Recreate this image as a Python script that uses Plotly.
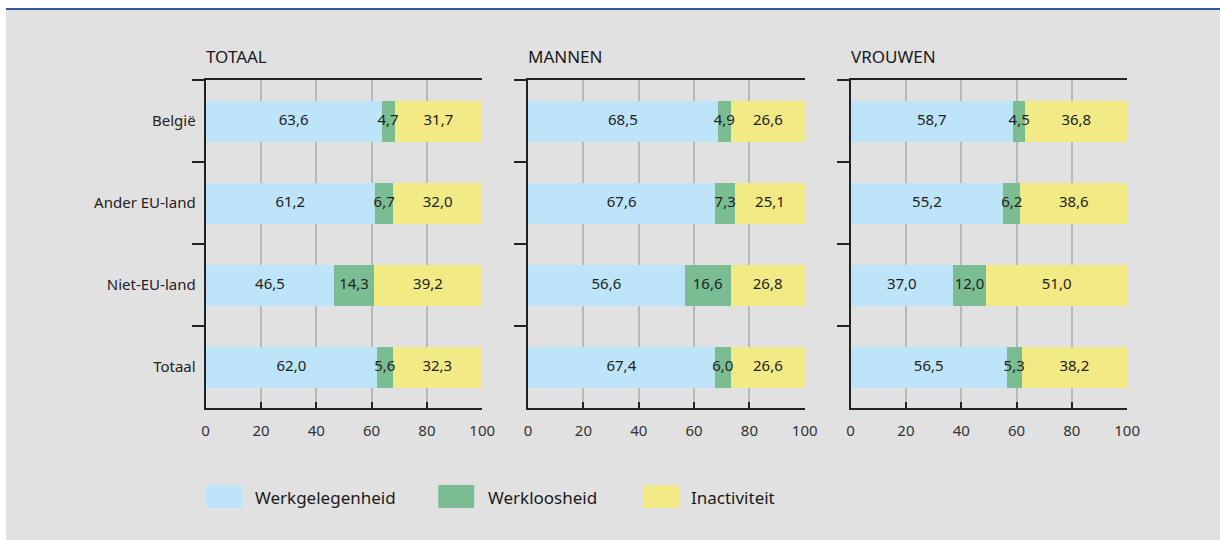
import plotly.graph_objects as go

categories = ["België", "Ander EU-land", "Niet-EU-land", "Totaal"]
panels = ["TOTAAL", "MANNEN", "VROUWEN"]
series_names = ["Werkgelegenheid", "Werkloosheid", "Inactiviteit"]

totaal_werk = [63.6, 61.2, 46.5, 62.0]
totaal_werkloos = [4.7, 6.7, 14.3, 5.6]
totaal_inact = [31.7, 32.0, 39.2, 32.3]

mannen_werk = [68.5, 67.6, 56.6, 67.4]
mannen_werkloos = [4.9, 7.3, 16.6, 6.0]
mannen_inact = [26.6, 25.1, 26.8, 26.6]

vrouwen_werk = [58.7, 55.2, 37.0, 56.5]
vrouwen_werkloos = [4.5, 6.2, 12.0, 5.3]
vrouwen_inact = [36.8, 38.6, 51.0, 38.2]

x_ticks = [0, 20, 40, 60, 80, 100]

data = [
    [totaal_werk, totaal_werkloos, totaal_inact],
    [mannen_werk, mannen_werkloos, mannen_inact],
    [vrouwen_werk, vrouwen_werkloos, vrouwen_inact],
]

colors = ["#bde4f8", "#7bbd93", "#f2ea84"]
TW, H = 1220, 540     # target picture size
W = 1235              # figure width (compensates horizontal squeeze seen in render)
DX = -3               # small horizontal correction
FONT = "Noto Sans"

def px_x(v, shift=True):
    return (v + (DX if shift else 0)) / TW

def px_y(v):
    return 1 - v / H

x_domains = [(205, 482), (528, 805), (851, 1128)]
y_top, y_bot = 80, 408

fig = go.Figure()

for p, series in enumerate(data):
    ax = "" if p == 0 else str(p + 1)
    base = [0.0] * len(categories)
    for s, vals in enumerate(series):
        fig.add_trace(go.Bar(
            y=categories, x=vals, orientation="h",
            name=series_names[s], marker=dict(color=colors[s], line=dict(width=0)),
            width=0.5,
            xaxis="x" + ax, yaxis="y" + ax, showlegend=False,
            hoverinfo="skip",
        ))
    # value labels on top of all bars, centred in each stacked segment
    for s, vals in enumerate(series):
        mids = [b + v / 2 for b, v in zip(base, vals)]
        base = [b + v for b, v in zip(base, vals)]
        fig.add_trace(go.Scatter(
            y=categories, x=mids, mode="text", customdata=vals,
            texttemplate="%{customdata:.1f}", textposition="middle center",
            textfont=dict(family=FONT, size=15, color="#222222"),
            xaxis="x" + ax, yaxis="y" + ax, showlegend=False,
            hoverinfo="skip", cliponaxis=False,
        ))

layout = dict(
    width=W, height=H, margin=dict(l=0, r=0, t=0, b=0),
    paper_bgcolor="white", plot_bgcolor="white",
    barmode="stack", separators=",.",
    font=dict(family=FONT, size=14, color="#222222"),
    showlegend=False, autosize=False,
)

for p in range(3):
    ax = "" if p == 0 else str(p + 1)
    x0, x1 = x_domains[p]
    layout["xaxis" + ax] = dict(
        domain=[px_x(x0), px_x(x1)], range=[0, 100],
        anchor="y" + ax, tickvals=x_ticks, ticks="inside", ticklen=6,
        tickcolor="#222222", tickwidth=2,
        showgrid=True, gridcolor="#b8b8b8", gridwidth=1.5,
        showline=True, linecolor="#222222", linewidth=2, mirror=True,
        tickfont=dict(size=15, color="#333333"), zeroline=False,
        ticklabelstandoff=8, fixedrange=True,
    )
    layout["yaxis" + ax] = dict(
        domain=[px_y(y_bot), px_y(y_top)], anchor="x" + ax,
        type="category", categoryorder="array", categoryarray=categories,
        autorange="reversed", tickson="boundaries", ticks="outside",
        ticklen=12, tickcolor="#222222", tickwidth=1.5,
        showline=True, linecolor="#222222", linewidth=2,
        showticklabels=(p == 0), tickfont=dict(size=15, color="#222222"),
        ticklabelstandoff=5, showgrid=False, fixedrange=True,
    )

fig.update_layout(**layout)

shapes = [
    dict(type="rect", xref="paper", yref="paper", x0=px_x(5), x1=px_x(1218, False),
         y0=0, y1=px_y(10), fillcolor="#e1e1e1", line=dict(width=0), layer="below"),
    dict(type="line", xref="paper", yref="paper", x0=px_x(5), x1=1,
         y0=px_y(9), y1=px_y(9), line=dict(color="#2a5a9a", width=2)),
]
annotations = []
for p in range(3):
    annotations.append(dict(
        text=panels[p], xref="paper", yref="paper", x=px_x(x_domains[p][0] - 2),
        y=px_y(57), xanchor="left", yanchor="middle", showarrow=False,
        font=dict(size=17, color="#1a1a1a"),
    ))

legend_swatches = [(205, 242), (438, 474), (643, 679)]
legend_text_x = [252, 486, 689]
for s in range(3):
    sx0, sx1 = legend_swatches[s]
    shapes.append(dict(type="rect", xref="paper", yref="paper",
                       x0=px_x(sx0), x1=px_x(sx1), y0=px_y(508), y1=px_y(485),
                       fillcolor=colors[s], line=dict(width=0)))
    annotations.append(dict(
        text=series_names[s], xref="paper", yref="paper", x=px_x(legend_text_x[s]),
        y=px_y(497), xanchor="left", yanchor="middle", showarrow=False,
        font=dict(size=17, color="#1a1a1a"),
    ))

fig.update_layout(shapes=shapes, annotations=annotations)
fig.write_html(
    "out.html",
    config={"displayModeBar": False, "responsive": False},
    post_script="document.body.style.margin='0';document.body.style.overflow='hidden';",
)
